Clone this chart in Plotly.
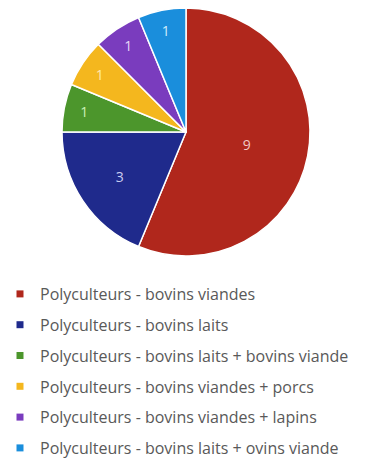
import plotly.graph_objects as go

labels = [
    "Polyculteurs - bovins viandes",
    "Polyculteurs - bovins laits",
    "Polyculteurs - bovins laits + bovins viande",
    "Polyculteurs - bovins viandes + porcs",
    "Polyculteurs - bovins viandes + lapins",
    "Polyculteurs - bovins laits + ovins viande",
]
values = [9, 3, 1, 1, 1, 1]
colors = ["#B0271C", "#1F2A8C", "#4C962C", "#F4B71E", "#7A3CBE", "#1A8EDC"]
text_colors = ["#F2C9C4", "#C9CDF0", "#C8F0B8", "#FFE9B0", "#E6D6F7", "#D2ECFB"]

W, H = 370, 470
cx, cy, r = 186, 132, 124

fig = go.Figure()
fig.add_trace(go.Pie(
    labels=labels, values=values, sort=False, direction="clockwise", rotation=0,
    marker=dict(colors=colors, line=dict(color="white", width=1.5)),
    textinfo="value", textposition="inside", insidetextorientation="horizontal",
    textfont=dict(color=text_colors, size=14, family="Open Sans"),
    hoverinfo="label+value",
    showlegend=False,
    domain=dict(x=[(cx - r) / W, (cx + r) / W], y=[(H - cy - r) / H, (H - cy + r) / H]),
))
for i, (lab, col) in enumerate(zip(labels, colors)):
    fig.add_trace(go.Scatter(
        x=[None], y=[None], mode="markers", name=lab,
        marker=dict(symbol="square", size=7, color=col),
        legendgroup="g%d" % i, showlegend=True, hoverinfo="skip",
    ))

fig.update_layout(
    width=W, height=H, margin=dict(l=0, r=0, t=0, b=0, autoexpand=False),
    paper_bgcolor="white", plot_bgcolor="white",
    xaxis=dict(visible=False), yaxis=dict(visible=False),
    legend=dict(x=0, y=(H - 277) / H, xanchor="left", yanchor="top",
                font=dict(size=16, color="#595959", family="Open Sans"),
                tracegroupgap=7, itemwidth=30, bgcolor="rgba(0,0,0,0)"),
    showlegend=True,
)
fig.write_html("out.html")
